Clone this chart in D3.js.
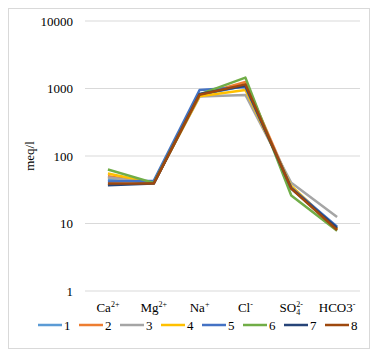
<!DOCTYPE html>
<html>
<head>
<meta charset="utf-8">
<script src="https://cdn.jsdelivr.net/npm/d3@7"></script>
<style>
  body { margin: 0; background: #fff; }
  svg text { font-family: "Liberation Serif", serif; }
</style>
</head>
<body>
<svg id="chart"></svg>
<script>
// ions on the x axis
const ions = ["Ca", "Mg", "Na", "Cl", "SO4", "HCO3"];
const yTicks = [1, 10, 100, 1000, 10000];
const sampleNames = ["1", "2", "3", "4", "5", "6", "7", "8"];
const sampleColors = ["#5B9BD5", "#ED7D31", "#A5A5A5", "#FFC000", "#4472C4", "#70AD47", "#264478", "#9E480E"];

// meq/l per sample, same order as ions
const s1 = [45, 40, 800, 1100, 34, 8.5];
const s2 = [50, 40, 800, 1250, 35, 8.2];
const s3 = [48, 40, 760, 800, 40, 12.5];
const s4 = [55, 40, 770, 950, 36, 8.3];
const s5 = [42, 43, 950, 1050, 34, 9.0];
const s6 = [63, 40, 820, 1450, 26, 7.8];
const s7 = [37, 39, 830, 1100, 33, 8.6];
const s8 = [39, 39, 810, 1150, 33, 8.0];
const series = [s1, s2, s3, s4, s5, s6, s7, s8];

const W = 377, H = 357;
const FONT = "'Liberation Serif', serif";
const svg = d3.select("#chart").attr("width", W).attr("height", H)
    .attr("font-family", FONT);

// outer frame
svg.append("rect")
    .attr("x", 8.5).attr("y", 8.5)
    .attr("width", 361).attr("height", 340)
    .attr("fill", "#fff").attr("stroke", "#d9d9d9");

const plotLeft = 85, plotRight = 360, plotTop = 21, plotBottom = 291;

const x = d3.scalePoint()
    .domain(ions)
    .range([plotLeft, plotRight])
    .padding(0.5);

const y = d3.scaleLog()
    .domain([1, 10000])
    .range([plotBottom, plotTop]);

// gridlines
svg.append("g")
    .selectAll("line")
    .data(yTicks)
    .join("line")
    .attr("x1", plotLeft).attr("x2", plotRight)
    .attr("y1", d => y(d)).attr("y2", d => y(d))
    .attr("stroke", "#d9d9d9");

// y axis labels
const yAxis = svg.append("g")
    .attr("transform", `translate(${plotLeft},0)`)
    .call(d3.axisLeft(y).tickValues(yTicks).tickFormat(d3.format("d")).tickSize(0).tickPadding(12));
yAxis.attr("font-family", FONT).attr("font-size", 13);
yAxis.select(".domain").remove();
yAxis.selectAll("text").attr("fill", "#000");

svg.append("text")
    .attr("transform", `translate(34,${y(100)}) rotate(-90)`)
    .attr("text-anchor", "middle")
    .attr("font-size", 13)
    .text("meq/l");

// x labels: [text, baseline shift]
const ionLabels = {
    Ca: [["Ca", 0], ["2+", -5]],
    Mg: [["Mg", 0], ["2+", -5]],
    Na: [["Na", 0], ["+", -5]],
    Cl: [["Cl", 0], ["-", -5]],
    SO4: [["SO", 0], ["4", 3], ["2-", -5]],
    HCO3: [["HCO", 0], ["3", 0], ["-", -5]]
};

const xl = svg.append("g");
ions.forEach(ion => {
    const t = xl.append("text")
        .attr("x", x(ion))
        .attr("y", 312)
        .attr("text-anchor", "middle")
        .attr("font-size", 13);
    let prev = 0;
    ionLabels[ion].forEach(([txt, shift], i) => {
        const ts = t.append("tspan").text(txt).attr("dy", shift - prev);
        if (i > 0 && shift !== 0) ts.attr("font-size", 8);
        if (ion === "SO4" && i === 2) ts.attr("dx", -4);
        prev = shift;
    });
});

// lines
const line = d3.line()
    .x((d, i) => x(ions[i]))
    .y(d => y(d));

svg.append("g")
    .selectAll("path")
    .data(series)
    .join("path")
    .attr("d", line)
    .attr("fill", "none")
    .attr("stroke", (d, i) => sampleColors[i])
    .attr("stroke-width", 2.5)
    .attr("stroke-linejoin", "round");

// legend
const legend = svg.append("g")
    .attr("transform", "translate(38,325)");
const items = legend.selectAll("g")
    .data(sampleNames)
    .join("g")
    .attr("transform", (d, i) => `translate(${i * 41},0)`);
items.append("line")
    .attr("x1", 0).attr("x2", 24)
    .attr("stroke", (d, i) => sampleColors[i])
    .attr("stroke-width", 2.5);
items.append("text")
    .attr("x", 26)
    .attr("y", 4.5)
    .attr("font-size", 13)
    .text(d => d);
</script>
</body>
</html>
